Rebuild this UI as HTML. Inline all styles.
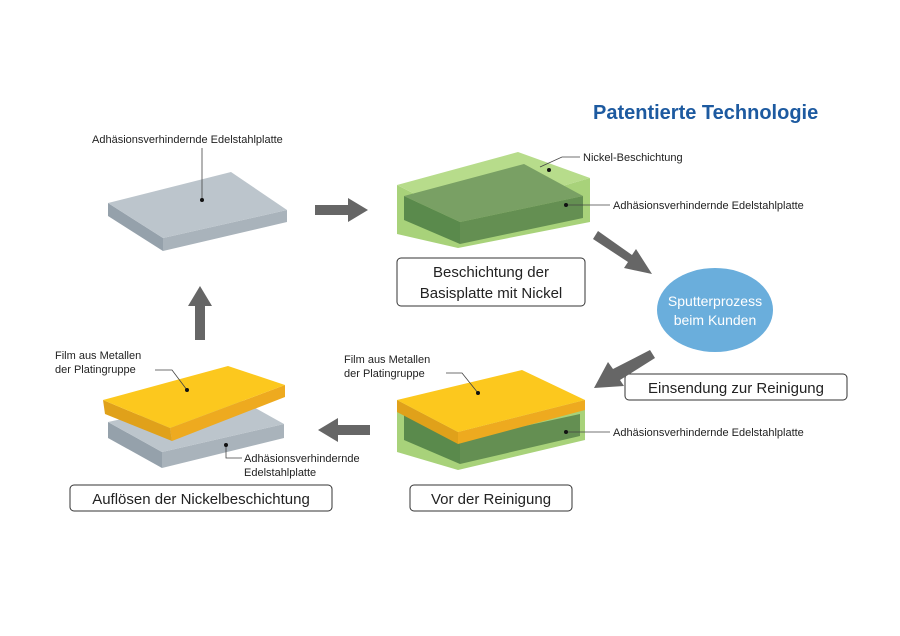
<!DOCTYPE html>
<html><head><meta charset="utf-8"><style>
html,body{margin:0;padding:0;background:#fff;}
svg{display:block;font-family:"Liberation Sans",sans-serif;}
</style></head><body>
<svg width="900" height="636" viewBox="0 0 900 636" xmlns="http://www.w3.org/2000/svg">
<rect width="900" height="636" fill="#fff"/>
<text x="593" y="119" font-size="20" font-weight="bold" fill="#1d5aa0">Patentierte Technologie</text>

<!-- top-left grey plate -->
<polygon points="108,203 163,238 163,251 108,216" fill="#95a1ab"/>
<polygon points="163,238 287,210 287,222 163,251" fill="#a9b3bb"/>
<polygon points="108,203 231,172 287,210 163,238" fill="#bcc5cc"/>
<text x="92" y="143" font-size="11" fill="#222">Adhäsionsverhindernde Edelstahlplatte</text>
<line x1="202" y1="148" x2="202" y2="200" stroke="#444" stroke-width="0.8"/>
<circle cx="202" cy="200" r="2" fill="#111"/>

<!-- green plate top-right -->
<polygon points="397,185 458,216 458,248 397,234" fill="#a8d27a"/>
<polygon points="458,216 590,178 590,222 458,248" fill="#a8d27a"/>
<polygon points="397,185 518,152 590,178 458,216" fill="#b7dc8b"/>
<polygon points="404,196 460,222 460,244 404,220" fill="#5a8a4c"/>
<polygon points="460,222 583,196 583,218 460,244" fill="#648f52"/>
<polygon points="404,196 524,164 583,196 460,222" fill="#79a064"/>
<polyline points="540,167 562,157 580,157" fill="none" stroke="#444" stroke-width="0.8"/>
<circle cx="549" cy="170" r="2" fill="#111"/>
<text x="583" y="161" font-size="11" fill="#222">Nickel-Beschichtung</text>
<line x1="566" y1="205" x2="610" y2="205" stroke="#444" stroke-width="0.8"/>
<circle cx="566" cy="205" r="2" fill="#111"/>
<text x="613" y="209" font-size="11" fill="#222">Adhäsionsverhindernde Edelstahlplatte</text>

<rect x="397" y="258" width="188" height="48" rx="4" fill="#fff" stroke="#333" stroke-width="1"/>
<text x="491" y="277" font-size="15" text-anchor="middle" fill="#222">Beschichtung der</text>
<text x="491" y="298" font-size="15" text-anchor="middle" fill="#222">Basisplatte mit Nickel</text>

<!-- ellipse -->
<ellipse cx="715" cy="310" rx="58" ry="42" fill="#6aaedc"/>
<text x="715" y="306" font-size="14" text-anchor="middle" fill="#fff">Sputterprozess</text>
<text x="715" y="325" font-size="14" text-anchor="middle" fill="#fff">beim Kunden</text>

<rect x="625" y="374" width="222" height="26" rx="4" fill="#fff" stroke="#333"/>
<text x="736" y="393" font-size="15" text-anchor="middle" fill="#222">Einsendung zur Reinigung</text>

<!-- arrows -->
<g fill="#666">
<polygon points="315,205 348,205 348,198 368,210 348,222 348,215 315,215"/>
<polygon points="593,239 598,231 632,255 636,249 652,274 624,268 628,262"/>
<polygon points="650,350 655,358 620,380 624,386 594,388 608,362 613,369"/>
<polygon points="370,425 338,425 338,418 318,430 338,442 338,435 370,435"/>
<polygon points="195,340 195,306 188,306 200,286 212,306 205,306 205,340"/>
</g>

<!-- bottom right: yellow on green -->
<polygon points="397,400 458,432 458,470 397,452" fill="#a8d27a"/>
<polygon points="458,432 585,400 585,440 458,470" fill="#a8d27a"/>
<polygon points="404,415 460,440 460,464 404,440" fill="#5a8a4c"/>
<polygon points="460,440 580,414 580,436 460,464" fill="#648f52"/>
<polygon points="397,400 458,432 458,444 397,412" fill="#e0a11a"/>
<polygon points="458,432 585,400 585,410 458,444" fill="#eeaa1f"/>
<polygon points="397,400 522,370 585,400 458,432" fill="#fcc81e"/>
<text x="344" y="363" font-size="11" fill="#222">Film aus Metallen</text>
<text x="344" y="377" font-size="11" fill="#222">der Platingruppe</text>
<polyline points="446,373 462,373 478,393" fill="none" stroke="#444" stroke-width="0.8"/>
<circle cx="478" cy="393" r="2" fill="#111"/>
<line x1="566" y1="432" x2="610" y2="432" stroke="#444" stroke-width="0.8"/>
<circle cx="566" cy="432" r="2" fill="#111"/>
<text x="613" y="436" font-size="11" fill="#222">Adhäsionsverhindernde Edelstahlplatte</text>
<rect x="410" y="485" width="162" height="26" rx="4" fill="#fff" stroke="#333"/>
<text x="491" y="504" font-size="15" text-anchor="middle" fill="#222">Vor der Reinigung</text>

<!-- bottom left -->
<polygon points="108,422 162,452 162,468 108,438" fill="#95a1ab"/>
<polygon points="162,452 284,424 284,438 162,468" fill="#a9b3bb"/>
<polygon points="108,422 232,395 284,424 162,452" fill="#bcc5cc"/>
<polygon points="103,400 170,428 172,441 105,414" fill="#e0a11a"/>
<polygon points="170,428 285,385 285,397 172,441" fill="#eeaa1f"/>
<polygon points="103,400 228,366 285,385 170,428" fill="#fcc81e"/>
<text x="55" y="359" font-size="11" fill="#222">Film aus Metallen</text>
<text x="55" y="373" font-size="11" fill="#222">der Platingruppe</text>
<polyline points="155,370 172,370 187,390" fill="none" stroke="#444" stroke-width="0.8"/>
<circle cx="187" cy="390" r="2" fill="#111"/>
<polyline points="226,445 226,458 242,458" fill="none" stroke="#444" stroke-width="0.8"/>
<circle cx="226" cy="445" r="2" fill="#111"/>
<text x="244" y="462" font-size="11" fill="#222">Adhäsionsverhindernde</text>
<text x="244" y="476" font-size="11" fill="#222">Edelstahlplatte</text>
<rect x="70" y="485" width="262" height="26" rx="4" fill="#fff" stroke="#333"/>
<text x="201" y="504" font-size="15" text-anchor="middle" fill="#222">Auflösen der Nickelbeschichtung</text>
</svg>
</body></html>
